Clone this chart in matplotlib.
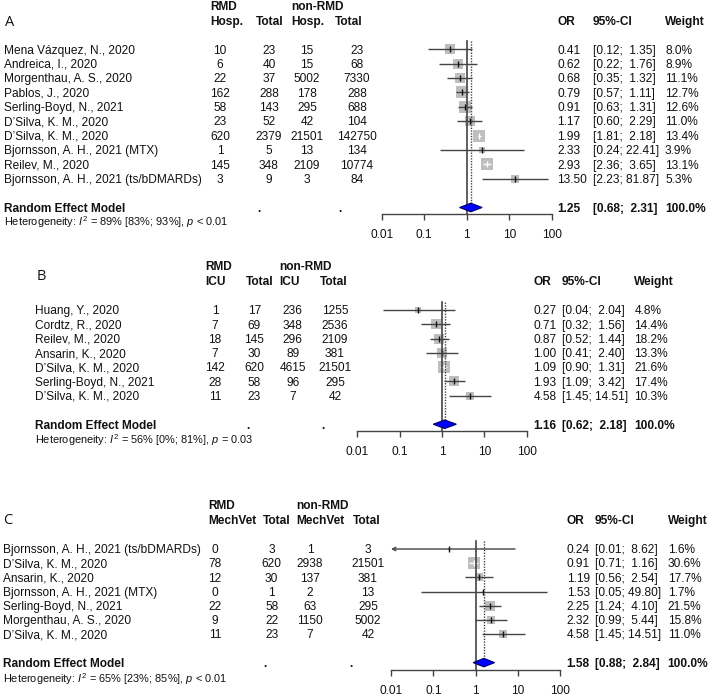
import matplotlib
matplotlib.use("Agg")
import matplotlib.pyplot as plt
import numpy as np

plt.rcParams['font.family'] = ['Liberation Sans', 'DejaVu Sans']
plt.rcParams['mathtext.fontset'] = 'custom'
plt.rcParams['mathtext.rm'] = 'Liberation Sans'
plt.rcParams['mathtext.it'] = 'Liberation Sans:italic'
plt.rcParams['mathtext.bf'] = 'Liberation Sans:bold'

# ---------------- data ----------------
tick_values = [0.01, 0.1, 1, 10, 100]
tick_labels = ["0.01", "0.1", "1", "10", "100"]

# Panel A: hospitalisation
studies_A = ["Mena Vázquez, N., 2020", "Andreica, I., 2020", "Morgenthau, A. S., 2020",
             "Pablos, J., 2020", "Serling-Boyd, N., 2021", "D’Silva, K. M., 2020",
             "D’Silva, K. M., 2020", "Bjornsson, A. H., 2021 (MTX)", "Reilev, M., 2020",
             "Bjornsson, A. H., 2021 (ts/bDMARDs)"]
rmd_ev_A = [10, 6, 22, 162, 58, 23, 620, 1, 145, 3]
rmd_tot_A = [23, 40, 37, 288, 143, 52, 2379, 5, 348, 9]
non_ev_A = [15, 15, 5002, 178, 295, 42, 21501, 13, 2109, 3]
non_tot_A = [23, 68, 7330, 288, 688, 104, 142750, 134, 10774, 84]
or_A = [0.41, 0.62, 0.68, 0.79, 0.91, 1.17, 1.99, 2.33, 2.93, 13.50]
lo_A = [0.12, 0.22, 0.35, 0.57, 0.63, 0.60, 1.81, 0.24, 2.36, 2.23]
hi_A = [1.35, 1.76, 1.32, 1.11, 1.31, 2.29, 2.18, 22.41, 3.65, 81.87]
w_A = [8.0, 8.9, 11.1, 12.7, 12.6, 11.0, 13.4, 3.9, 13.1, 5.3]
pooled_A = [1.25, 0.68, 2.31]
het_A = r"Heterogeneity: $I^2$ = 89% [83%; 93%], $p$ < 0.01"

# Panel B: ICU
studies_B = ["Huang, Y., 2020", "Cordtz, R., 2020", "Reilev, M., 2020", "Ansarin, K., 2020",
             "D’Silva, K. M., 2020", "Serling-Boyd, N., 2021", "D’Silva, K. M., 2020"]
rmd_ev_B = [1, 7, 18, 7, 142, 28, 11]
rmd_tot_B = [17, 69, 145, 30, 620, 58, 23]
non_ev_B = [236, 348, 296, 89, 4615, 96, 7]
non_tot_B = [1255, 2536, 2109, 381, 21501, 295, 42]
or_B = [0.27, 0.71, 0.87, 1.00, 1.09, 1.93, 4.58]
lo_B = [0.04, 0.32, 0.52, 0.41, 0.90, 1.09, 1.45]
hi_B = [2.04, 1.56, 1.44, 2.40, 1.31, 3.42, 14.51]
w_B = [4.8, 14.4, 18.2, 13.3, 21.6, 17.4, 10.3]
pooled_B = [1.16, 0.62, 2.18]
het_B = r"Heterogeneity: $I^2$ = 56% [0%; 81%], $p$ = 0.03"

# Panel C: mechanical ventilation
studies_C = ["Bjornsson, A. H., 2021 (ts/bDMARDs)", "D’Silva, K. M., 2020", "Ansarin, K., 2020",
             "Bjornsson, A. H., 2021 (MTX)", "Serling-Boyd, N., 2021", "Morgenthau, A. S., 2020",
             "D’Silva, K. M., 2020"]
rmd_ev_C = [0, 78, 12, 0, 22, 9, 11]
rmd_tot_C = [3, 620, 30, 1, 58, 22, 23]
non_ev_C = [1, 2938, 137, 2, 63, 1150, 7]
non_tot_C = [3, 21501, 381, 13, 295, 5002, 42]
or_C = [0.24, 0.91, 1.19, 1.53, 2.25, 2.32, 4.58]
lo_C = [0.01, 0.71, 0.56, 0.05, 1.24, 0.99, 1.45]
hi_C = [8.62, 1.16, 2.54, 49.80, 4.10, 5.44, 14.51]
w_C = [1.6, 30.6, 17.7, 1.7, 21.5, 15.8, 11.0]
pooled_C = [1.58, 0.88, 2.84]
het_C = r"Heterogeneity: $I^2$ = 65% [23%; 85%], $p$ < 0.01"

# ---------------- layout (pixels) ----------------
W, H = 709, 698
FS = 8.6
FS_HET = 7.9
FS_LAB = 10.5
TXT = '#111111'
LINE = '#444444'
BOX = '#BEBEBE'

fig = plt.figure(figsize=(W / 100, H / 100), dpi=100)


def put(x, y, s, size=FS, bold=False, ha='left', **kw):
    """Place text so that the cap-height centre sits at pixel row y."""
    px = size * 100 / 72
    fig.text(x / W, 1 - (y + 0.358 * px) / H, s, fontsize=size,
             fontweight='bold' if bold else 'normal', ha=ha, va='baseline',
             color=kw.pop('color', TXT), **kw)


def draw_panel(L, studies, rmd_ev, rmd_tot, non_ev, non_tot, ors, los, his, ws, pooled, het):
    n = len(studies)
    row0, step = L['row0'], L['step']
    re_row = n + 1

    # panel label
    fig.text(L['label_xy'][0] / W, 1 - L['label_xy'][1] / H, L['label'],
             fontsize=FS_LAB, family=['Open Sans', 'DejaVu Sans'], ha='left', va='center', color=TXT)

    # header
    h1, h2 = L['head_y']
    put(L['h_ev'], h1, "RMD", bold=True)
    put(L['h_ev'], h2, L['ev_name'], bold=True)
    put(L['h_tot'], h2, "Total", bold=True, ha='center')
    put(L['h_nev'], h1, "non-RMD", bold=True)
    put(L['h_nev'], h2, L['ev_name'], bold=True)
    put(L['h_ntot'], h2, "Total", bold=True, ha='center')
    put(L['or_x'], h2, "OR", bold=True)
    put(L['ci_x'], h2, "95%-CI", bold=True)
    put(L['w_x'], h2, "Weight", bold=True)

    # table rows
    for i in range(n):
        y = row0 + i * step
        put(L['name_x'], y, studies[i])
        put(L['c_ev'], y, str(rmd_ev[i]), ha='center')
        put(L['c_tot'], y, str(rmd_tot[i]), ha='center')
        put(L['c_nev'], y, str(non_ev[i]), ha='center')
        put(L['c_ntot'], y, str(non_tot[i]), ha='center')
        put(L['or_x'], y, f"{ors[i]:.2f}")
        put(L['ci_x'], y, f"[{los[i]:.2f}; {his[i]:>5.2f}]")
        put(L['w_x'], y, f"{ws[i]:.1f}%")

    yre = row0 + re_row * step
    put(L['name_x'], yre, "Random Effect Model", bold=True)
    put(L['dots'][0], yre, ".", bold=True)
    put(L['dots'][1], yre, ".", bold=True)
    put(L['or_x'], yre, f"{pooled[0]:.2f}", bold=True)
    put(L['ci_x'], yre, f"[{pooled[1]:.2f}; {pooled[2]:>5.2f}]", bold=True)
    put(L['w_x'], yre, "100.0%", bold=True)
    put(L['name_x'], L['het_y'], het, size=FS_HET)

    # forest axes
    top_row = -0.7
    bot_row = (L['axis_y'] - row0) / step
    y_top_px = row0 + top_row * step
    ax = fig.add_axes([L['x0'] / W, 1 - L['axis_y'] / H,
                       (L['x1'] - L['x0']) / W, (L['axis_y'] - y_top_px) / H])
    ax.set_xscale('log')
    ax.set_xlim(0.01, 100)
    ax.set_ylim(bot_row, top_row)
    ax.patch.set_alpha(0)
    for sp in ('left', 'right', 'top'):
        ax.spines[sp].set_visible(False)
    ax.spines['bottom'].set_color(LINE)
    ax.spines['bottom'].set_linewidth(1.0)
    ax.set_yticks([])
    ax.set_xticks(tick_values)
    ax.set_xticklabels(tick_labels)
    ax.minorticks_off()
    ax.tick_params(axis='x', direction='out', length=4.5, width=1.0, color=LINE,
                   pad=6.5, labelsize=FS, labelcolor=TXT)

    dec_px = (L['x1'] - L['x0']) / 4
    wmax = max(ws)
    for i in range(n):
        side_px = 11.8 * np.sqrt(ws[i] / wmax)
        half_dec = side_px / 2 / dec_px
        inside = (np.log10(his[i]) - np.log10(ors[i]) <= half_dec and
                  np.log10(ors[i]) - np.log10(los[i]) <= half_dec)
        ax.plot([ors[i]], [i], marker='s', markersize=side_px * 0.72, color=BOX,
                markeredgewidth=0, linestyle='none', zorder=2)
        lc = 'white' if inside else LINE
        if los[i] <= 0.01:
            ax.annotate("", xy=(0.01, i), xytext=(his[i], i),
                        arrowprops=dict(arrowstyle='->', color=LINE, lw=1.0,
                                        shrinkA=0, shrinkB=0, mutation_scale=6),
                        annotation_clip=False, zorder=3)
        else:
            ax.plot([los[i], his[i]], [i, i], color=lc, lw=1.0, zorder=3,
                    solid_capstyle='butt', clip_on=False)
        ax.plot([ors[i]], [i], marker='|', markersize=4, markeredgewidth=1.0,
                color='white' if inside else '#111111', linestyle='none', zorder=4)

    # reference lines
    ax.plot([1, 1], [-0.58, bot_row], color=LINE, lw=1.2, zorder=5, clip_on=False)
    ax.plot([pooled[0], pooled[0]], [-0.58, re_row - 0.32], color=LINE, lw=1.0,
            linestyle=(0, (1, 1)), zorder=5, clip_on=False)

    # pooled diamond
    h = 0.3
    ax.fill([pooled[1], pooled[0], pooled[2], pooled[0]],
            [re_row, re_row - h, re_row, re_row + h],
            facecolor='#0000FF', edgecolor='#00006A', lw=0.8, zorder=6, clip_on=False)


layout_A = dict(label='A', label_xy=(5, 23), x0=381.7, x1=551.7, row0=49.3, step=14.38,
                axis_y=214, head_y=(6, 21), ev_name="Hosp.", name_x=4.3,
                c_ev=220, c_tot=269, c_nev=307, c_ntot=357,
                h_ev=210, h_tot=270, h_nev=291, h_ntot=349,
                or_x=557, ci_x=593, w_x=665, dots=(257, 338), het_y=222)
layout_B = dict(label='B', label_xy=(37, 277), x0=357.3, x1=526.7, row0=310, step=14.28,
                axis_y=431, head_y=(266, 281), ev_name="ICU", name_x=35,
                c_ev=215, c_tot=254.3, c_nev=292.7, c_ntot=335,
                h_ev=205.7, h_tot=259.3, h_nev=279.3, h_ntot=333.5,
                or_x=533.3, ci_x=561.7, w_x=634.3, dots=(246, 321), het_y=440)
layout_C = dict(label='C', label_xy=(3, 520), x0=391, x1=560, row0=549, step=14.2,
                axis_y=670, head_y=(505, 520), ev_name="MechVet", name_x=2.7,
                c_ev=215, c_tot=271.7, c_nev=310, c_ntot=368,
                h_ev=208.3, h_tot=276.7, h_nev=296.7, h_ntot=366.7,
                or_x=566.7, ci_x=595, w_x=667.7, dots=(263, 349), het_y=679)

draw_panel(layout_A, studies_A, rmd_ev_A, rmd_tot_A, non_ev_A, non_tot_A,
           or_A, lo_A, hi_A, w_A, pooled_A, het_A)
draw_panel(layout_B, studies_B, rmd_ev_B, rmd_tot_B, non_ev_B, non_tot_B,
           or_B, lo_B, hi_B, w_B, pooled_B, het_B)
draw_panel(layout_C, studies_C, rmd_ev_C, rmd_tot_C, non_ev_C, non_tot_C,
           or_C, lo_C, hi_C, w_C, pooled_C, het_C)

fig.savefig("out.png", dpi=100)
